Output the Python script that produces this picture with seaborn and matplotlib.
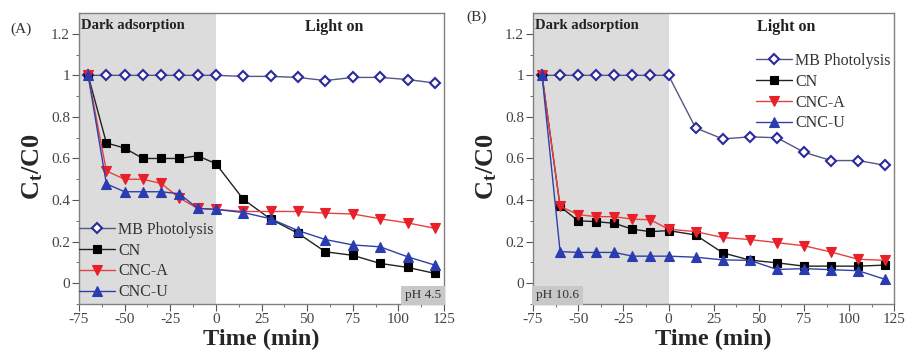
import numpy as np
import pandas as pd
import matplotlib
matplotlib.use("Agg")
import matplotlib.pyplot as plt
import seaborn as sns

time = [-70, -60, -50, -40, -30, -20, -10, 0, 15, 30, 45, 60, 75, 90, 105, 120]

# Panel A (pH 4.5)
a_mb = [1.0, 1.0, 1.0, 1.0, 1.0, 1.0, 1.0, 1.0, 0.995, 0.995, 0.99, 0.975, 0.99, 0.99, 0.98, 0.963]
a_cn = [1.0, 0.675, 0.65, 0.60, 0.60, 0.60, 0.613, 0.575, 0.404, 0.308, 0.24, 0.151, 0.134, 0.095, 0.076, 0.047]
a_cnca = [1.0, 0.54, 0.50, 0.50, 0.48, 0.41, 0.36, 0.355, 0.345, 0.345, 0.345, 0.337, 0.333, 0.31, 0.29, 0.264]
a_cncu = [1.0, 0.478, 0.44, 0.44, 0.44, 0.43, 0.36, 0.355, 0.34, 0.31, 0.253, 0.21, 0.184, 0.175, 0.127, 0.087]

# Panel B (pH 10.6)
b_mb = [1.0, 1.0, 1.0, 1.0, 1.0, 1.0, 1.0, 1.0, 0.747, 0.694, 0.704, 0.70, 0.63, 0.59, 0.59, 0.567]
b_cn = [1.0, 0.369, 0.30, 0.296, 0.288, 0.26, 0.248, 0.253, 0.232, 0.146, 0.111, 0.098, 0.082, 0.082, 0.082, 0.087]
b_cnca = [1.0, 0.37, 0.33, 0.32, 0.32, 0.308, 0.305, 0.26, 0.248, 0.22, 0.21, 0.195, 0.18, 0.15, 0.115, 0.11]
b_cncu = [1.0, 0.152, 0.148, 0.148, 0.148, 0.13, 0.13, 0.13, 0.125, 0.112, 0.11, 0.066, 0.07, 0.065, 0.06, 0.018]

series_names = ["MB Photolysis", "CN", "CNC-A", "CNC-U"]
panel_labels = ["(A)", "(B)"]
ph_labels = ["pH 4.5", "pH 10.6"]
x_ticks = [-75, -50, -25, 0, 25, 50, 75, 100, 125]
y_ticks = [0, 0.2, 0.4, 0.6, 0.8, 1.0, 1.2]
y_tick_labels = ["0", "0.2", "0.4", "0.6", "0.8", "1", "1.2"]

sns.set_theme(style="ticks")
plt.rcParams['font.family'] = ['Liberation Serif', 'DejaVu Serif']
plt.rcParams['mathtext.fontset'] = 'custom'
plt.rcParams['mathtext.rm'] = 'Liberation Serif'
plt.rcParams['mathtext.bf'] = 'Liberation Serif:bold'
plt.rcParams['mathtext.it'] = 'Liberation Serif:italic'

styles = {
    "MB Photolysis": dict(color="#55558a", marker="D", mec="#2a2a9c", mfc="white", ms=5.0),
    "CN": dict(color="#222222", marker="s", mec="black", mfc="black", ms=5.5),
    "CNC-A": dict(color="#e84040", marker="v", mec="#e8202a", mfc="#e8202a", ms=6.5),
    "CNC-U": dict(color="#3040a8", marker="^", mec="#2a3cb0", mfc="#2a3cb0", ms=6.5),
}

fig = plt.figure(figsize=(9.08, 3.61), dpi=100)
axA = fig.add_axes([0.087, 0.158, 0.402, 0.806])
axB = fig.add_axes([0.587, 0.158, 0.398, 0.806])

panels = [
    (axA, [a_mb, a_cn, a_cnca, a_cncu]),
    (axB, [b_mb, b_cn, b_cnca, b_cncu]),
]

label_pos = [(-0.189, 0.969), (-0.183, 1.01)]

for i, (ax, data) in enumerate(panels):
    ax.axvspan(-75, 0, color="#dcdcdc", zorder=0, lw=0)
    for name, vals in zip(series_names, data):
        df = pd.DataFrame({"t": time, "v": vals})
        st = styles[name]
        sns.lineplot(data=df, x="t", y="v", ax=ax, color=st["color"], lw=1.0,
                     marker=st["marker"], markersize=st["ms"],
                     markeredgecolor=st["mec"], markerfacecolor=st["mfc"],
                     markeredgewidth=1.5 if name == "MB Photolysis" else 0.8,
                     label=name, zorder=3)
    ax.set_xlim(-75, 125)
    ax.set_ylim(-0.1, 1.3)
    ax.set_xticks(x_ticks)
    ax.set_xticklabels([str(v) for v in x_ticks])
    ax.set_yticks(y_ticks)
    ax.set_yticklabels(y_tick_labels)
    ax.set_xticks(np.arange(-62.5, 125, 25), minor=True)
    ax.set_yticks(np.arange(-0.1, 1.3, 0.2), minor=True)
    ax.tick_params(axis="both", which="major", labelsize=11, direction="out",
                   length=5, width=0.8, color="#555555", labelcolor="#444444", pad=1.5)
    ax.tick_params(axis="both", which="minor", direction="out", length=2.5,
                   width=0.6, color="#555555")
    for sp in ax.spines.values():
        sp.set_visible(True)
        sp.set_color("#808080")
        sp.set_linewidth(1.0)
    ax.set_xlabel("Time (min)", fontsize=17.5, fontweight="bold", labelpad=2)
    ax.set_ylabel(r"$\mathbf{C_t}$/C0", fontsize=19, fontweight="bold")
    ax.yaxis.set_label_coords(-0.093, 0.47)
    ax.text(-74, 1.27, "Dark adsorption", fontsize=10.5, fontweight="bold",
            va="top", ha="left", color="#222222")
    ax.text(65, 1.27, "Light on", fontsize=11.5, fontweight="bold",
            va="top", ha="center", color="#222222")
    ax.text(label_pos[i][0], label_pos[i][1], panel_labels[i], transform=ax.transAxes,
            fontsize=11, va="top", ha="left", color="#333333")

    leg_kw = dict(frameon=False, fontsize=11.5, handlelength=2.25, handletextpad=0.2,
                  labelspacing=0.3, borderaxespad=0, borderpad=0, loc="upper left")
    if i == 0:
        ax.text(123.5, -0.088, ph_labels[i], fontsize=9.5, ha="right", va="bottom",
                color="#333333", zorder=4,
                bbox=dict(boxstyle="square,pad=0.3", fc="#c8c8c8", ec="none"))
        leg = ax.legend(bbox_to_anchor=(0.0, 0.282), **leg_kw)
    else:
        ax.text(-73.5, -0.088, ph_labels[i], fontsize=9.5, ha="left", va="bottom",
                color="#333333", zorder=4,
                bbox=dict(boxstyle="square,pad=0.3", fc="#c8c8c8", ec="none"))
        leg = ax.legend(bbox_to_anchor=(0.618, 0.8625), **leg_kw)
    for t in leg.get_texts():
        t.set_color("#333333")

fig.savefig("out.png", dpi=100)
